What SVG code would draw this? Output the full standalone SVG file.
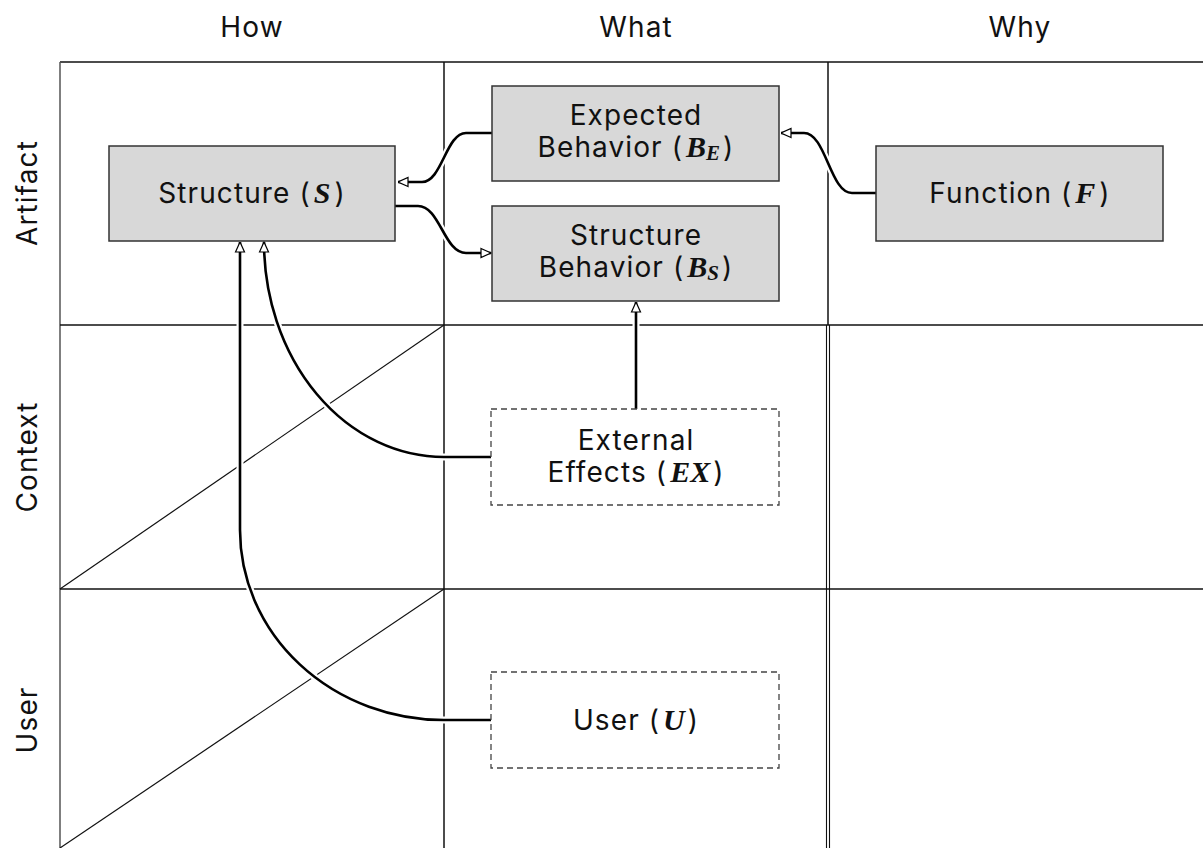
<svg xmlns="http://www.w3.org/2000/svg" width="1203" height="848" viewBox="0 0 1203 848">
<style>
.t{font-family:Inter,"Liberation Sans",sans-serif;font-size:28px;fill:#111;text-anchor:middle;letter-spacing:1.1px}
.m{font-family:"Liberation Serif",serif;font-style:italic;font-weight:bold;font-size:30px;letter-spacing:0}
.sub{font-size:21px}
.grid{stroke:#111;stroke-width:1.5;fill:none}
.diag{stroke:#111;stroke-width:1.2}
.box{fill:#d8d8d8;stroke:#333;stroke-width:1.5}
.dbox{fill:#fff;stroke:#444;stroke-width:1.3;stroke-dasharray:6 4}
.halo{fill:none;stroke:#fff;stroke-width:7}
.conn{fill:none;stroke:#000;stroke-width:2.6}
</style>
<defs>
<marker id="ah" markerUnits="userSpaceOnUse" markerWidth="12" markerHeight="12" refX="10.5" refY="5" orient="auto" viewBox="-1 -1 12 12">
<path d="M0.5,0.5 L10.5,5 L0.5,9.5 Z" fill="#fff" stroke="#000" stroke-width="1.2"/>
</marker>
</defs>
<rect width="1203" height="848" fill="#fff"/>
<g id="grid">
<line x1="60" y1="62" x2="1203" y2="62" class="grid"/>
<line x1="60" y1="62" x2="60" y2="848" class="grid" style="stroke:#555"/>
<line x1="444" y1="62" x2="444" y2="848" class="grid"/>
<line x1="828" y1="62" x2="828" y2="325" class="grid"/>
<line x1="826.5" y1="325" x2="826.5" y2="848" stroke="#111" stroke-width="1.1"/>
<line x1="829.5" y1="325" x2="829.5" y2="848" stroke="#111" stroke-width="1.1"/>
<line x1="60" y1="325" x2="1203" y2="325" class="grid"/>
<line x1="60" y1="589" x2="1203" y2="589" class="grid"/>
<line x1="60" y1="589" x2="444" y2="325" class="diag"/>
<line x1="60" y1="848" x2="444" y2="589" class="diag"/>
</g>
<g id="headers">
<text class="t" x="252" y="37">How</text>
<text class="t" x="636" y="37">What</text>
<text class="t" x="1020" y="37">Why</text>
<text class="t" transform="translate(37,193) rotate(-90)">Artifact</text>
<text class="t" transform="translate(37,457) rotate(-90)">Context</text>
<text class="t" transform="translate(37,720) rotate(-90)">User</text>
</g>
<g id="connectors">
<path class="halo" d="M492,133 H466 C446,133 442,182 422,182 H398"/>
<path class="conn" d="M492,133 H466 C446,133 442,182 422,182 H398" marker-end="url(#ah)"/>
<path class="halo" d="M395,206 H418 C440,206 444,253 466,253 H491"/>
<path class="conn" d="M395,206 H418 C440,206 444,253 466,253 H491" marker-end="url(#ah)"/>
<path class="halo" d="M876,193 H852 C830,193 826,133 804,133 H781"/>
<path class="conn" d="M876,193 H852 C830,193 826,133 804,133 H781" marker-end="url(#ah)"/>
<path class="halo" d="M636,409 V302"/>
<path class="conn" d="M636,409 V302" marker-end="url(#ah)"/>
<path class="halo" d="M491,457 H444 A180,215 0 0 1 264,242"/>
<path class="conn" d="M491,457 H444 A180,215 0 0 1 264,242" marker-end="url(#ah)"/>
<path class="halo" d="M491,720 H444 A204,190 0 0 1 240,530 V242"/>
<path class="conn" d="M491,720 H444 A204,190 0 0 1 240,530 V242" marker-end="url(#ah)"/>
</g>
<g id="structure">
<rect class="box" x="109" y="146" width="286" height="95"/>
<text class="t" x="252" y="203">Structure (<tspan class="m" dx="3">S</tspan><tspan dx="4">)</tspan></text>
</g>
<g id="expected-behavior">
<rect class="box" x="492" y="86" width="287" height="95"/>
<text class="t" x="636" y="125">Expected</text>
<text class="t" x="636" y="157">Behavior (<tspan class="m" dx="3">B</tspan><tspan class="m sub" dy="3">E</tspan><tspan dx="3" dy="-3">)</tspan></text>
</g>
<g id="structure-behavior">
<rect class="box" x="492" y="206" width="287" height="95"/>
<text class="t" x="636" y="245">Structure</text>
<text class="t" x="636" y="277">Behavior (<tspan class="m" dx="3">B</tspan><tspan class="m sub" dy="3">S</tspan><tspan dx="3" dy="-3">)</tspan></text>
</g>
<g id="function">
<rect class="box" x="876" y="146" width="287" height="95"/>
<text class="t" x="1020" y="203">Function (<tspan class="m" dx="3">F</tspan><tspan dx="4">)</tspan></text>
</g>
<g id="external-effects">
<rect class="dbox" x="491" y="409" width="288" height="96"/>
<text class="t" x="636" y="450">External</text>
<text class="t" x="636" y="482">Effects (<tspan class="m" dx="3">EX</tspan><tspan dx="3">)</tspan></text>
</g>
<g id="user">
<rect class="dbox" x="491" y="672" width="288" height="96"/>
<text class="t" x="636" y="730">User (<tspan class="m" dx="3">U</tspan><tspan dx="3">)</tspan></text>
</g>
</svg>
